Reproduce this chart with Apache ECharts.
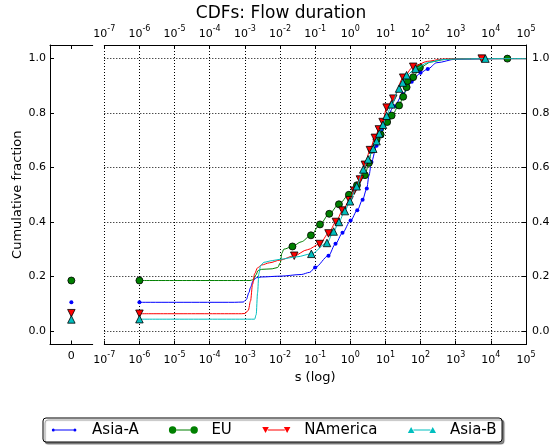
<!DOCTYPE html>
<html>
<head>
<meta charset="utf-8">
<script src="https://cdn.jsdelivr.net/npm/echarts@6/dist/echarts.min.js"></script>
<style>
  html, body { margin: 0; padding: 0; background: #ffffff; }
  #chart { width: 553px; height: 445px; }
</style>
</head>
<body>
<div id="chart"></div>
<script>
// ---- data ----------------------------------------------------------------
const decadeExponents = [-7, -6, -5, -4, -3, -2, -1, 0, 1, 2, 3, 4, 5];
const fractionTicks = [0, 0.2, 0.4, 0.6, 0.8, 1.0];
const zeroCategory = ['0'];
const seriesNames = ['Asia-A', 'EU', 'NAmerica', 'Asia-B'];

// share of flows with zero duration
const zeroFractions = [0.105, 0.185, 0.065, 0.042];

// [duration (s), cumulative fraction]
const asiaACurve = [
  [1e-6, 0.105], [5e-4, 0.105], [9e-4, 0.106], [1.1e-3, 0.115], [1.3e-3, 0.14],
  [1.45e-3, 0.16], [1.7e-3, 0.183], [2.1e-3, 0.195], [3e-3, 0.198], [0.01, 0.201],
  [0.04, 0.207], [0.07, 0.215], [0.1, 0.233], [0.24, 0.276], [0.38, 0.32],
  [0.6, 0.36], [1.02, 0.405], [1.58, 0.443], [2.24, 0.482], [2.95, 0.523],
  [3.4, 0.57], [4.0, 0.62], [5.6, 0.68], [7.9, 0.74], [11.2, 0.79],
  [17.8, 0.825], [31.6, 0.87], [56, 0.915], [100, 0.948], [160, 0.962],
  [290, 0.985], [1000, 0.998], [28000, 1.0], [1e5, 1.0]
];
const asiaAMarks = [
  [1e-6, 0.105], [0.1, 0.233], [0.24, 0.276], [0.38, 0.32], [0.6, 0.36],
  [1.02, 0.405], [1.58, 0.443], [2.24, 0.482], [2.95, 0.523], [4.0, 0.62],
  [5.6, 0.68], [7.9, 0.74], [11.2, 0.79], [17.8, 0.825], [31.6, 0.87],
  [56, 0.915], [100, 0.948], [160, 0.962], [28000, 1.0]
];

const euCurve = [
  [1e-6, 0.185], [1.4e-3, 0.185], [1.75e-3, 0.188], [2.05e-3, 0.205], [2.4e-3, 0.222],
  [3e-3, 0.226], [6e-3, 0.228], [8.6e-3, 0.233], [0.0102, 0.25], [0.0113, 0.285],
  [0.0128, 0.3], [0.0226, 0.31], [0.04, 0.327], [0.076, 0.351], [0.137, 0.391],
  [0.252, 0.43], [0.475, 0.465], [0.914, 0.5], [1.55, 0.535], [2.61, 0.572],
  [3.39, 0.617], [4.05, 0.665], [5.6, 0.703], [7.3, 0.721], [11.2, 0.767],
  [15, 0.791], [24.5, 0.828], [32, 0.86], [40, 0.895], [42.7, 0.918],
  [61.7, 0.932], [95.5, 0.967], [200, 0.988], [500, 0.997], [1000, 0.999],
  [29500, 1.0], [1e5, 1.0]
];
const euMarks = [
  [1e-6, 0.185], [0.0226, 0.31], [0.076, 0.351], [0.137, 0.391], [0.252, 0.43],
  [0.475, 0.465], [0.914, 0.5], [1.55, 0.535], [2.61, 0.572], [3.39, 0.617],
  [4.05, 0.665], [5.6, 0.703], [7.3, 0.721], [11.2, 0.767], [15, 0.791],
  [24.5, 0.828], [32, 0.86], [40, 0.895], [42.7, 0.918], [61.7, 0.932],
  [95.5, 0.967], [29500, 1.0]
];

const naCurve = [
  [1e-6, 0.063], [8e-4, 0.063], [1e-3, 0.064], [1.25e-3, 0.075], [1.45e-3, 0.11],
  [1.65e-3, 0.17], [1.9e-3, 0.21], [2.3e-3, 0.232], [3e-3, 0.242], [5e-3, 0.25],
  [0.01, 0.26], [0.0254, 0.276], [0.06, 0.298], [0.134, 0.319], [0.24, 0.358],
  [0.39, 0.4], [0.6, 0.442], [0.95, 0.48], [1.29, 0.515], [1.88, 0.556],
  [2.6, 0.61], [3.62, 0.664], [5.0, 0.709], [6.5, 0.74], [8.3, 0.767],
  [10.8, 0.82], [16.7, 0.853], [32, 0.93], [61.7, 0.97], [158, 0.99],
  [400, 0.998], [1000, 1.0], [5500, 1.0], [1e5, 1.0]
];
const naMarks = [
  [1e-6, 0.063], [0.0254, 0.276], [0.134, 0.319], [0.24, 0.358], [0.39, 0.4],
  [0.6, 0.442], [0.95, 0.48], [1.29, 0.515], [1.88, 0.556], [2.6, 0.61],
  [3.62, 0.664], [5.0, 0.709], [6.5, 0.74], [8.3, 0.767], [10.8, 0.82],
  [16.7, 0.853], [32, 0.93], [61.7, 0.97], [5500, 1.0]
];

const asiaBCurve = [
  [1e-6, 0.043], [1.9e-3, 0.043], [2.1e-3, 0.06], [2.3e-3, 0.14], [2.5e-3, 0.21],
  [2.8e-3, 0.24], [3.5e-3, 0.252], [6e-3, 0.258], [0.01, 0.263], [0.03, 0.272],
  [0.078, 0.283], [0.217, 0.323], [0.336, 0.365], [0.475, 0.4], [0.7, 0.44],
  [0.98, 0.476], [1.52, 0.531], [2.34, 0.593], [3.2, 0.63], [4.5, 0.669],
  [5.6, 0.697], [6.7, 0.725], [8.5, 0.757], [10.8, 0.79], [15, 0.832],
  [24.5, 0.89], [31, 0.912], [40, 0.939], [72, 0.963], [158, 0.985],
  [400, 0.996], [1000, 0.999], [7000, 1.0], [1e5, 1.0]
];
const asiaBMarks = [
  [1e-6, 0.043], [0.078, 0.283], [0.217, 0.323], [0.336, 0.365], [0.475, 0.4],
  [0.7, 0.44], [0.98, 0.476], [1.52, 0.531], [2.34, 0.593], [3.2, 0.63],
  [4.5, 0.669], [5.6, 0.697], [6.7, 0.725], [8.5, 0.757], [10.8, 0.79],
  [15, 0.832], [24.5, 0.89], [31, 0.912], [40, 0.939], [72, 0.963], [7000, 1.0]
];

const curves = [asiaACurve, euCurve, naCurve, asiaBCurve];
const marks = [asiaAMarks, euMarks, naMarks, asiaBMarks];

// ---- styling -------------------------------------------------------------
const FONT = 'DejaVu Sans';
const colors = ['#0000ff', '#008000', '#ff0000', '#00bfbf'];
const markerStyles = [
  { symbol: 'circle', size: 4, rotate: 0, edge: 0 },
  { symbol: 'circle', size: 7, rotate: 0, edge: 0.8 },
  { symbol: 'triangle', size: 7.5, rotate: 180, edge: 0.8 },
  { symbol: 'triangle', size: 7.5, rotate: 0, edge: 0.8 }
];
// legend handles: line with a marker at each end
const PAD = 'M0,40L0,40M290,40L290,40';
const legendIcons = [
  'path://' + PAD + 'M22,40A15,15,0,1,1,52,40A15,15,0,1,1,22,40Z' +
    'M52,35L238,35L238,45L52,45Z' +
    'M238,40A15,15,0,1,1,268,40A15,15,0,1,1,238,40Z',
  'path://' + PAD + 'M0,40A37,37,0,1,1,74,40A37,37,0,1,1,0,40Z' +
    'M74,35L216,35L216,45L74,45Z' +
    'M216,40A37,37,0,1,1,290,40A37,37,0,1,1,216,40Z',
  'path://' + PAD + 'M4,10L70,10L37,70Z' +
    'M60,35L230,35L230,45L60,45Z' +
    'M220,10L286,10L253,70Z',
  'path://' + PAD + 'M4,70L70,70L37,10Z' +
    'M60,35L230,35L230,45L60,45Z' +
    'M220,70L286,70L253,10Z'
];

const black = '#000000';
const spine = { show: true, onZero: false, lineStyle: { color: black, width: 1 } };
const tickIn = { show: true, inside: true, length: 4, lineStyle: { color: black, width: 1 } };
const dotted = { show: true, lineStyle: { color: black, width: 1, type: [1, 2] } };
const tickFont = { fontFamily: FONT, fontSize: 11, color: black };
const powerRich = {
  b: { fontFamily: FONT, fontSize: 11, lineHeight: 19, color: black },
  s: { fontFamily: FONT, fontSize: 8, lineHeight: 8, verticalAlign: 'top', color: black }
};
function powerLabel(value) {
  const e = Math.round(Math.log10(value));
  return decadeExponents.indexOf(e) >= 0 ? '{b|10}{s|' + e + '}' : '';
}
function fractionLabel(value) {
  const hit = fractionTicks.find(t => Math.abs(t - value) < 1e-9);
  return hit === undefined ? '' : hit.toFixed(1);
}

const logAxis = (position, margin, extra) => Object.assign({
  type: 'log', logBase: 10, gridIndex: 1, position: position,
  min: Math.pow(10, decadeExponents[0]),
  max: Math.pow(10, decadeExponents[decadeExponents.length - 1]),
  interval: 1,
  axisLine: spine, axisTick: tickIn, minorTick: { show: false },
  axisLabel: { formatter: powerLabel, rich: powerRich, margin: margin },
  splitLine: { show: false }
}, extra || {});

const fractionAxis = (gridIndex, position, margin, withGrid) => ({
  type: 'value', gridIndex: gridIndex, position: position,
  min: -0.05, max: 1.05, splitNumber: 5,
  axisLine: spine, axisTick: tickIn,
  axisLabel: Object.assign({ formatter: fractionLabel, margin: margin,
    showMinLabel: false, showMaxLabel: false }, tickFont),
  splitLine: withGrid ? dotted : { show: false }
});

const series = [];
seriesNames.forEach((name, i) => {
  const m = markerStyles[i];
  series.push({
    name: name, type: 'line', xAxisIndex: 2, yAxisIndex: 1,
    data: curves[i], showSymbol: false, symbol: 'none',
    smooth: 0.3, smoothMonotone: 'x',
    lineStyle: { color: colors[i], width: 1 }, itemStyle: { color: colors[i] },
    silent: true, z: 2 + i * 2
  });
  series.push({
    name: name, type: 'scatter', xAxisIndex: 2, yAxisIndex: 1,
    data: marks[i], symbol: m.symbol, symbolSize: m.size, symbolRotate: m.rotate,
    itemStyle: { color: colors[i], borderColor: m.edge ? black : colors[i], borderWidth: m.edge, opacity: 1 },
    silent: true, z: 3 + i * 2
  });
  series.push({
    name: name, type: 'scatter', xAxisIndex: 0, yAxisIndex: 0,
    data: [[zeroCategory[0], zeroFractions[i]]],
    symbol: m.symbol, symbolSize: m.size, symbolRotate: m.rotate,
    itemStyle: { color: colors[i], borderColor: m.edge ? black : colors[i], borderWidth: m.edge, opacity: 1 },
    silent: true, z: 3 + i * 2
  });
});

const option = {
  animation: false,
  backgroundColor: '#ffffff',
  textStyle: { fontFamily: FONT },
  title: {
    text: 'CDFs: Flow duration', left: 281, top: 5, padding: 0, textAlign: 'center',
    textStyle: { fontFamily: FONT, fontSize: 17, fontWeight: 'normal', color: black }
  },
  legend: {
    left: 43, top: 418, orient: 'horizontal',
    padding: [3, 5.5, 3, 6.6], itemGap: 30, itemWidth: 29, itemHeight: 8,
    symbolKeepAspect: true, selectedMode: false,
    backgroundColor: '#ffffff', borderColor: black, borderWidth: 1, borderRadius: 3,
    shadowColor: 'rgba(0,0,0,0.45)', shadowBlur: 1, shadowOffsetX: 2, shadowOffsetY: 2,
    textStyle: { fontFamily: FONT, fontSize: 15, color: black, lineHeight: 18, padding: [0, 0, 0, 8.5] },
    data: seriesNames.map((name, i) => ({
      name: name, icon: legendIcons[i],
      itemStyle: { color: colors[i], borderWidth: 0 }
    }))
  },
  grid: [
    { left: 50, top: 45, width: 42.7, height: 299.5 },
    { left: 104.3, top: 45, width: 421.7, height: 299.5 }
  ],
  xAxis: [
    { type: 'category', gridIndex: 0, position: 'bottom', data: zeroCategory,
      axisLine: spine, axisTick: Object.assign({ alignWithLabel: true }, tickIn),
      axisLabel: Object.assign({ margin: 6 }, tickFont), splitLine: { show: false } },
    { type: 'category', gridIndex: 0, position: 'top', data: zeroCategory,
      axisLine: spine, axisTick: Object.assign({ alignWithLabel: true }, tickIn),
      axisLabel: { show: false }, splitLine: { show: false } },
    logAxis('bottom', 6, {
      name: 's (log)', nameLocation: 'middle', nameGap: 27,
      nameTextStyle: { fontFamily: FONT, fontSize: 13, color: black },
      splitLine: dotted
    }),
    logAxis('top', 1)
  ],
  yAxis: [
    Object.assign(fractionAxis(0, 'left', 4, false), {
      name: 'Cumulative fraction', nameLocation: 'middle', nameGap: 25,
      nameTextStyle: { fontFamily: FONT, fontSize: 13, color: black }
    }),
    fractionAxis(1, 'right', 6, true)
  ],
  series: series
};

const chart = echarts.init(document.getElementById('chart'), null, { renderer: 'canvas' });
chart.setOption(option);
</script>
</body>
</html>
